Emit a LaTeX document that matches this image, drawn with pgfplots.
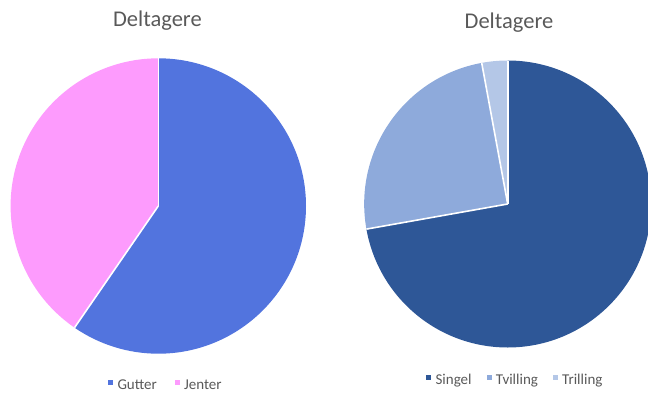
\documentclass[border=0pt]{standalone}
\usepackage{pgfplots}
\usepackage{pgfplotstable}
\pgfplotsset{compat=1.18}
\usepackage{fontspec}
\setmainfont{Carlito}
\definecolor{textgray}{RGB}{89,89,89}
\definecolor{lc0}{RGB}{82,116,222}
\definecolor{lc1}{RGB}{253,155,253}
\definecolor{rc0}{RGB}{46,87,151}
\definecolor{rc1}{RGB}{142,170,219}
\definecolor{rc2}{RGB}{180,199,231}

\pgfplotstableread{
label value
Gutter 59.6
Jenter 40.4
}\leftdata
\pgfplotstableread{
label value
Singel 72.2
Tvilling 24.9
Trilling 2.9
}\rightdata

\pgfplotsset{
  pie/.style={
    hide axis, scale only axis,
    xmin=-1, xmax=1, ymin=-1, ymax=1,
    anchor=center,
    clip=false,
    title style={font=\fontsize{22.5}{26}\selectfont, text=textgray, anchor=base},
    legend columns=-1,
    legend style={draw=none, fill=none, font=\fontsize{15}{18}\selectfont, text=textgray,
      anchor=center, inner sep=0pt},
    legend image code/.code={\fill[##1, draw=none] (0pt,0pt) rectangle (5pt,5pt); \path (7pt,0pt);},
  }
}

\newcommand{\drawpie}[3]{% table, color prefix, radius
  \def\startang{90}%
  \pgfplotstablegetrowsof{#1}%
  \pgfmathtruncatemacro\lastrow{\pgfplotsretval-1}%
  \pgfplotsforeachungrouped \i in {0,...,\lastrow}{%
    \pgfplotstablegetelem{\i}{value}\of#1%
    \pgfmathsetmacro\endang{\startang - 3.6*\pgfplotsretval}%
    \edef\temp{\noexpand\fill[#2\i] (axis cs:0,0) -- (axis cs:{cos(\startang)},{sin(\startang)}) arc[start angle=\startang, end angle=\endang, radius=#3pt] -- cycle;}%
    \temp
    \global\let\startang\endang
  }%
  \def\startang{90}%
  \pgfplotsforeachungrouped \i in {0,...,\lastrow}{%
    \pgfplotstablegetelem{\i}{value}\of#1%
    \pgfmathsetmacro\endang{\startang - 3.6*\pgfplotsretval}%
    \edef\temp{\noexpand\draw[white, line width=1.6pt] (axis cs:0,0) -- (axis cs:{cos(\startang)},{sin(\startang)});}%
    \temp
    \global\let\startang\endang
  }%
}

\begin{document}
\begin{tikzpicture}[x=1pt,y=1pt]
\useasboundingbox (0,0) rectangle (648,392);
\begin{axis}[pie,
  at={(158.3pt,186pt)}, width=295.4pt, height=295.4pt,
  title={Deltagere},
  title style={at={(axis description cs:0.497,1.088)}},
  legend style={at={(axis description cs:0.526,-0.106)},
    /tikz/every even column/.append style={column sep=16pt}},
]
\drawpie{\leftdata}{lc}{147.7}
\addlegendimage{fill=lc0}\addlegendentry{Gutter}
\addlegendimage{fill=lc1}\addlegendentry{Jenter}
\end{axis}
\begin{axis}[pie,
  at={(507.7pt,188pt)}, width=287pt, height=287pt,
  title={Deltagere},
  title style={at={(axis description cs:0.5045,1.091)}},
  legend style={at={(axis description cs:0.527,-0.113)},
    /tikz/every even column/.append style={column sep=13pt}},
]
\drawpie{\rightdata}{rc}{143.5}
\addlegendimage{fill=rc0}\addlegendentry{Singel}
\addlegendimage{fill=rc1}\addlegendentry{Tvilling}
\addlegendimage{fill=rc2}\addlegendentry{Trilling}
\end{axis}
\end{tikzpicture}
\end{document}
